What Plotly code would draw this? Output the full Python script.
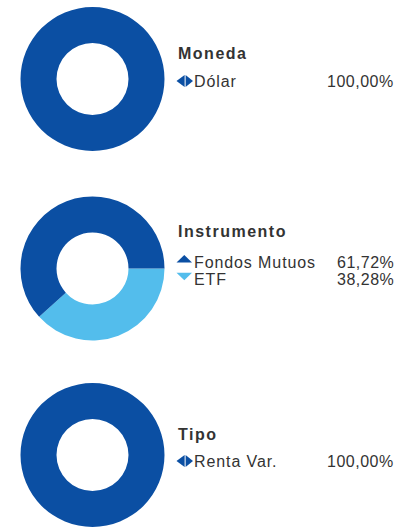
import plotly.graph_objects as go

W, H = 408, 527

DARK = "#0B4FA3"
LIGHT = "#53BDEC"
TEXT = "#333333"

# Section data
moneda_labels = ["Dólar"]
moneda_values = [100.00]

instr_labels = ["ETF", "Fondos Mutuos"]
instr_values = [38.28, 61.72]

tipo_labels = ["Renta Var."]
tipo_values = [100.00]


def px(x):
    return x / W


def py(y):
    return 1 - y / H


def fmt(v):
    return f"{v:,.2f}".replace(".", ",") + "%"


fig = go.Figure()

# donut positions (px): left, right, top, bottom
dx = [px(20.5), px(164.5)]
fig.add_trace(go.Pie(labels=moneda_labels, values=moneda_values, hole=0.5,
                     sort=False, direction="clockwise", rotation=0,
                     marker=dict(colors=[DARK]), textinfo="none",
                     domain=dict(x=dx, y=[py(151), py(7)])))
fig.add_trace(go.Pie(labels=instr_labels, values=instr_values, hole=0.5,
                     sort=False, direction="clockwise", rotation=90,
                     marker=dict(colors=[LIGHT, DARK]), textinfo="none",
                     domain=dict(x=dx, y=[py(340.5), py(196.5)])))
fig.add_trace(go.Pie(labels=tipo_labels, values=tipo_values, hole=0.5,
                     sort=False, direction="clockwise", rotation=0,
                     marker=dict(colors=[DARK]), textinfo="none",
                     domain=dict(x=dx, y=[0, py(H - 144)])))

ann = []
shapes = []
FONT = "Liberation Sans, Arial, sans-serif"


def title(text, y):
    ann.append(dict(x=px(176), y=py(y), xref="paper", yref="paper",
                    xanchor="left", yanchor="middle", showarrow=False,
                    text=f'<b><span style="letter-spacing:1.5px">{text}</span></b>',
                    font=dict(family=FONT, size=16, color=TEXT)))


def row(label, value, y):
    ann.append(dict(x=px(192), y=py(y), xref="paper", yref="paper",
                    xanchor="left", yanchor="middle", showarrow=False,
                    text=f'<span style="letter-spacing:0.9px">{label}</span>',
                    font=dict(family=FONT, size=16, color=TEXT)))
    ann.append(dict(x=px(395.5), y=py(y), xref="paper", yref="paper",
                    xanchor="right", yanchor="middle", showarrow=False,
                    text=f'<span style="letter-spacing:0.5px">{fmt(value)}</span>',
                    font=dict(family=FONT, size=16, color=TEXT)))


def path(points, color):
    d = "M " + " L ".join(f"{px(x)},{py(y)}" for x, y in points) + " Z"
    shapes.append(dict(type="path", xref="paper", yref="paper", path=d,
                       fillcolor=color, line=dict(width=0)))


def split_diamond(yc, color):
    path([(176.5, yc), (184.6, yc - 6), (184.6, yc + 6)], color)
    path([(193, yc), (185.6, yc - 6), (185.6, yc + 6)], color)


def tri_up(yc, color):
    path([(176.5, yc + 3.7), (184.3, yc - 3.7), (192, yc + 3.7)], color)


def tri_down(yc, color):
    path([(176.5, yc - 3.7), (184.3, yc + 3.7), (192, yc - 3.7)], color)


title("Moneda", 54)
row(moneda_labels[0], moneda_values[0], 81)
split_diamond(81, DARK)

title("Instrumento", 232)
row(instr_labels[1], instr_values[1], 262.5)
row(instr_labels[0], instr_values[0], 279)
tri_up(258.8, DARK)
tri_down(276.5, LIGHT)

title("Tipo", 434)
row(tipo_labels[0], tipo_values[0], 461)
split_diamond(461, DARK)

fig.update_layout(width=W, height=H, margin=dict(l=0, r=0, t=0, b=0),
                  showlegend=False, paper_bgcolor="white",
                  annotations=ann, shapes=shapes)

fig.write_html("out.html")
